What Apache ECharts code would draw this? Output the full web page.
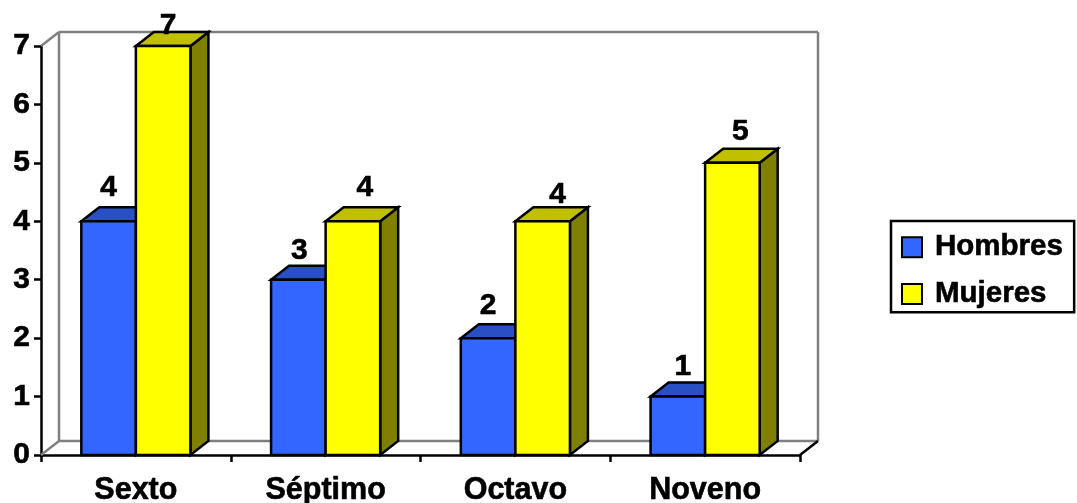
<!DOCTYPE html>
<html>
<head>
<meta charset="utf-8">
<style>html,body{margin:0;padding:0;background:#fff}#c{width:1077px;height:503px}</style>
<script src="https://cdn.jsdelivr.net/npm/echarts@6/dist/echarts.min.js"></script>
</head>
<body>
<div id="c"></div>
<script>
const categories = ['Sexto', 'Séptimo', 'Octavo', 'Noveno'];
const hombres = [4, 3, 2, 1];
const mujeres = [7, 4, 4, 5];
const yTicks = [0, 1, 2, 3, 4, 5, 6, 7];

const FONT = '"Liberation Sans", Arial, sans-serif';
const DX = 18, DY = -14;
const BAR_RATIO = 0.2875;
const LW = 2.5;
const HEAVY = {textBorderColor: '#000', textBorderWidth: 0.6};
// small hand offsets [dx, dy] of the value labels relative to the bar front top centre
const hombresLabelShift = [[0, -34], [1, -29], [0, -32], [5, -30]];
const mujeresLabelShift = [[5, -20], [12, -34], [15, -27], [8, -31]];

const chart = echarts.init(document.getElementById('c'), null, {renderer: 'canvas', width: 1077, height: 503});

function poly(points, fill) {
  return {
    type: 'polygon',
    shape: {points},
    style: {fill, stroke: '#000', lineWidth: LW, lineJoin: 'miter'}
  };
}

function barRenderer(side, colors, shifts) {
  return function (params, api) {
    const idx = api.value(0);
    const val = api.value(1);
    const top = api.coord([idx, val]);
    const base = api.coord([idx, 0]);
    const w = api.size([1, 0])[0] * BAR_RATIO;
    const x0 = side < 0 ? top[0] - w : top[0];
    const x1 = x0 + w;
    const yT = top[1], yB = base[1];
    const shift = shifts[params.dataIndex];
    return {
      type: 'group',
      children: [
        poly([[x1, yT], [x1 + DX, yT + DY], [x1 + DX, yB + DY], [x1, yB]], colors.side),
        poly([[x0, yT], [x0 + DX, yT + DY], [x1 + DX, yT + DY], [x1, yT]], colors.top),
        poly([[x0, yT], [x1, yT], [x1, yB], [x0, yB]], colors.front),
        {
          type: 'text',
          style: {
            x: (x0 + x1) / 2 + shift[0],
            y: yT + shift[1],
            text: String(val),
            fill: '#000',
            stroke: '#000',
            lineWidth: 0.6,
            font: 'bold 30px ' + FONT,
            align: 'center',
            verticalAlign: 'middle'
          }
        }
      ]
    };
  };
}

function wallRenderer(params, api) {
  const band = api.size([1, 0])[0];
  const first = api.coord([0, 0]);
  const last = api.coord([categories.length - 1, 0]);
  const high = api.coord([0, yTicks[yTicks.length - 1]]);
  const lb = [first[0] - band / 2, first[1]];
  const lt = [lb[0], high[1]];
  const rb = [last[0] + band / 2, last[1]];
  const gray = {stroke: '#808080', lineWidth: 2.5, fill: 'none'};
  const line = (a, b, style) => ({
    type: 'line',
    shape: {x1: a[0], y1: a[1], x2: b[0], y2: b[1]},
    style
  });
  const off = p => [p[0] + DX, p[1] + DY];
  const rt = [rb[0], lt[1]];
  return {
    type: 'group',
    children: [
      line(off(lb), off(lt), gray),
      line(off(lt), off(rt), gray),
      line(off(rt), off(rb), gray),
      line(off(lb), off(rb), gray),
      line(lt, off(lt), gray),
      line(lb, off(lb), gray),
      line(rb, off(rb), {stroke: '#000', lineWidth: LW, fill: 'none'})
    ]
  };
}

chart.setOption({
  animation: false,
  backgroundColor: '#fff',
  grid: {left: 41, top: 46, width: 759, height: 409, containLabel: false, outerBoundsMode: 'none'},
  legend: {
    data: ['Hombres', 'Mujeres'],
    orient: 'vertical',
    left: 891,
    top: 221,
    padding: [11, 11, 3, 10],
    itemWidth: 20,
    itemHeight: 20,
    itemGap: 16,
    icon: 'rect',
    borderColor: '#000',
    borderWidth: 2.5,
    backgroundColor: '#fff',
    textStyle: Object.assign({fontFamily: FONT, fontWeight: 'bold', fontSize: 29.5, color: '#000', padding: [0, 0, 0, 8]}, HEAVY)
  },
  xAxis: {
    type: 'category',
    data: categories,
    axisLine: {lineStyle: {color: '#000', width: LW}},
    axisTick: {show: true, alignWithLabel: false, length: 7, lineStyle: {color: '#000', width: LW}},
    axisLabel: Object.assign({fontFamily: FONT, fontWeight: 'bold', fontSize: 30.5, color: '#000', margin: 20}, HEAVY),
    splitLine: {show: false}
  },
  yAxis: {
    type: 'value',
    min: 0,
    max: yTicks[yTicks.length - 1],
    interval: 1,
    axisLine: {show: true, lineStyle: {color: '#000', width: LW}},
    axisTick: {show: true, length: 7, lineStyle: {color: '#000', width: LW}},
    axisLabel: Object.assign({fontFamily: FONT, fontWeight: 'bold', fontSize: 30, color: '#000', margin: 11}, HEAVY),
    splitLine: {show: false}
  },
  series: [
    {
      type: 'custom',
      name: 'walls',
      silent: true,
      clip: false,
      z: 1,
      coordinateSystem: 'cartesian2d',
      data: [[0, 0]],
      renderItem: wallRenderer
    },
    {
      type: 'custom',
      name: 'Hombres',
      clip: false,
      z: 2,
      coordinateSystem: 'cartesian2d',
      itemStyle: {color: '#3366FF', borderColor: '#000', borderWidth: LW},
      encode: {x: 0, y: 1},
      data: hombres.map((v, i) => [i, v]),
      renderItem: barRenderer(-1, {front: '#3366FF', top: '#284FC4', side: '#1E3C99'}, hombresLabelShift)
    },
    {
      type: 'custom',
      name: 'Mujeres',
      clip: false,
      z: 3,
      coordinateSystem: 'cartesian2d',
      itemStyle: {color: '#FFFF00', borderColor: '#000', borderWidth: LW},
      encode: {x: 0, y: 1},
      data: mujeres.map((v, i) => [i, v]),
      renderItem: barRenderer(1, {front: '#FFFF00', top: '#C0C000', side: '#808000'}, mujeresLabelShift)
    }
  ]
});
</script>
</body>
</html>
